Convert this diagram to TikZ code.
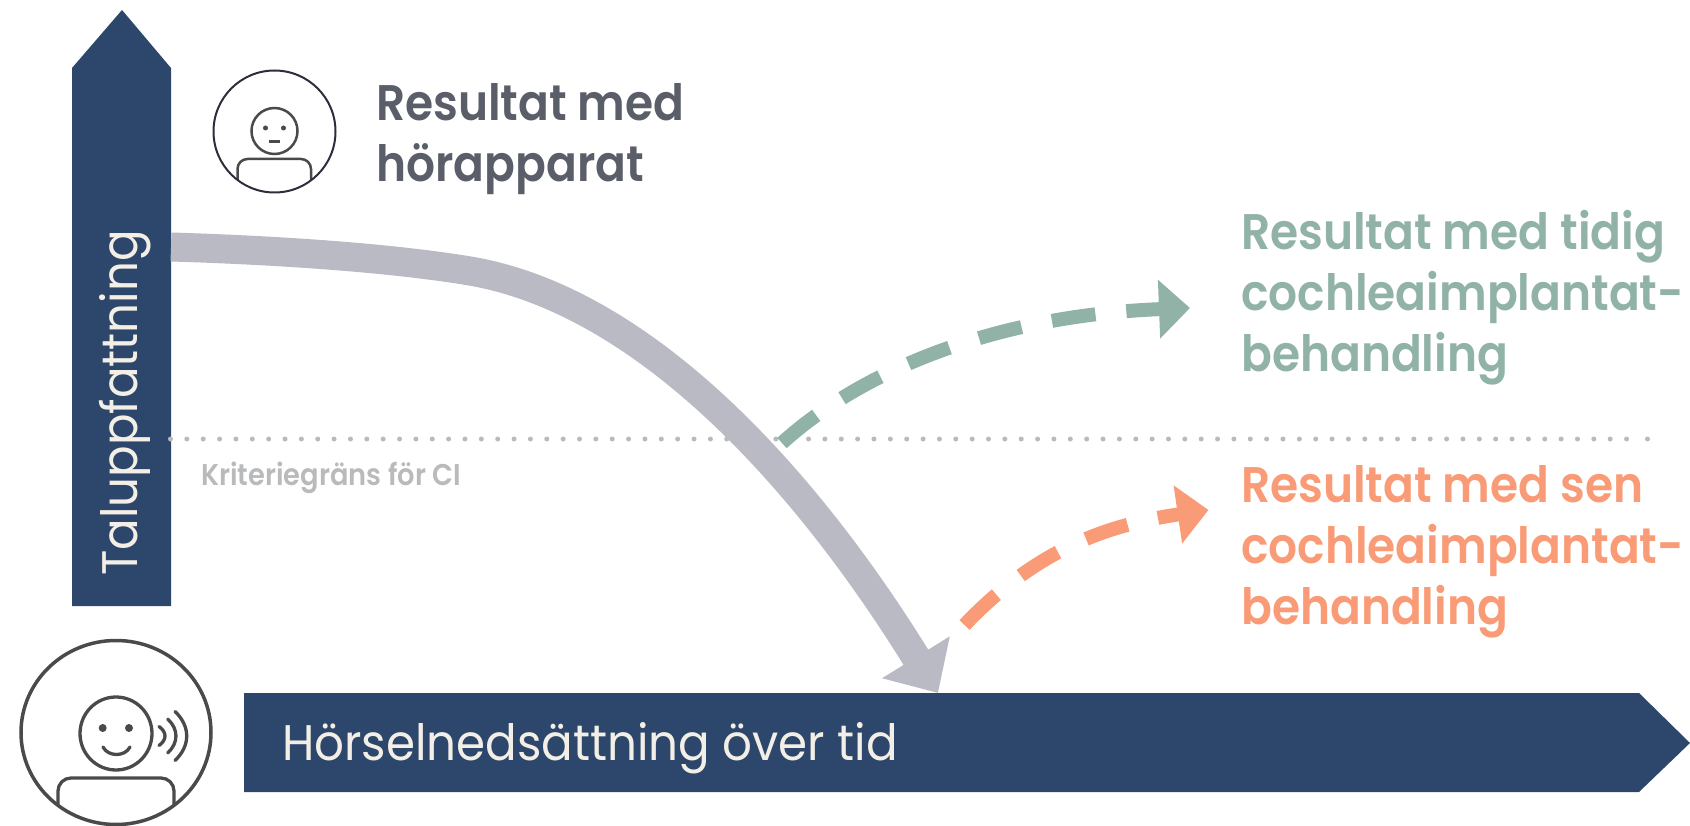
\documentclass[tikz,border=0pt]{standalone}
\usepackage{fontspec}
\usetikzlibrary{arrows.meta}
\setmainfont{Poppins}[FakeStretch=0.935,BoldFont={Poppins SemiBold},BoldFeatures={FakeStretch=0.91}]
\definecolor{navy}{HTML}{2C476B}
\definecolor{cream}{HTML}{F4EFE6}
\definecolor{sage}{HTML}{91B2A7}
\definecolor{coral}{HTML}{F99B76}
\definecolor{kurva}{HTML}{B9BAC3}
\definecolor{prick}{HTML}{B9BABC}
\definecolor{rubrik}{HTML}{5A5E68}
\definecolor{ikon}{HTML}{4A4A4A}
\definecolor{ring}{HTML}{2D2D3C}
\tikzset{
  bartext/.style={anchor=base west, inner sep=0pt, text=cream, font=\fontsize{50}{60}\selectfont},
  headtext/.style={anchor=base west, inner sep=0pt, align=left, font=\fontsize{50}{61}\selectfont\bfseries},
  dashline/.style={line width=14pt, dash pattern=on 44pt off 31pt}
}

\begin{document}
\begin{tikzpicture}[x=1pt,y=-1pt]
  \useasboundingbox (0,0) rectangle (1690,826);

  % Axlar
  \fill[navy] (72,606) -- (72,68) -- (122,10) -- (171,68) -- (171,606) -- cycle;
  \fill[navy] (244,693) -- (1639,693) -- (1690,743) -- (1639,792) -- (244,792) -- cycle;
  \node[bartext, rotate=90] (talupp) at (137,576) {Taluppfattning};
  \node[bartext] (horsel) at (282,760) {Hörselnedsättning över tid};

  % Kriteriegräns
  \draw[prick, line width=5pt, line cap=round, dash pattern=on 0pt off 16.36pt] (170.5,439) -- (1641,439);
  \fill[prick] (1647.5,439) circle (2.5);
  \node[anchor=base west, inner sep=0pt, text=prick, font=\fontsize{30}{34}\selectfont\bfseries] (krit) at (201,485) {Kriteriegräns för CI};

  % Kurvor
  \coordinate (kstart) at (171,247);
  \coordinate (kslut) at (938,693);
  \draw[kurva, line width=29pt, -{Triangle[length=42pt,width=77pt]}] (kstart)
    .. controls (270,250) and (385,257) .. (470,271)
    .. controls (640,300) and (800,470) .. (kslut);

  \coordinate (tstart) at (782,443);
  \coordinate (tslut) at (1190,308);
  \draw[sage, dashline, -{Triangle[length=31pt,width=57pt]}] (tstart)
    .. controls (868,365) and (1006,315) .. (tslut);

  \coordinate (sstart) at (964.5,625);
  \coordinate (sslut) at (1208.5,510);
  \draw[coral, dashline, -{Triangle[length=31pt,width=57pt]}] (sstart)
    .. controls (1036,550) and (1106,525) .. (sslut);

  % Etiketter
  \node[headtext, text=rubrik] (horapp) at (376,182) {Resultat med\\hörapparat};
  \node[headtext, text=sage] (tidig) at (1241,371) {Resultat med tidig\\cochleaimplantat-\\behandling};
  \node[headtext, text=coral] (sen) at (1241,624) {Resultat med sen\\cochleaimplantat-\\behandling};

  % Ikon, liten
  \begin{scope}
    \clip (274.5,131.5) circle (61);
    \draw[ikon, line width=2.5pt, rounded corners=10pt] (237.5,200) -- (237.5,159) -- (311,159) -- (311,200);
  \end{scope}
  \draw[ring, line width=2pt] (274.5,131.5) circle (61);
  \draw[ikon, line width=2.5pt] (274.5,131) circle (23);
  \foreach \x in {265.5,283.5}
    \fill[ikon] (\x,128) circle (2.5);
  \draw[ikon, line width=2.5pt] (269,141.5) -- (280,141.5);

  % Ikon, stor
  \begin{scope}
    \clip (116,732.5) ellipse (95 and 92);
    \draw[ikon, line width=3.3pt, rounded corners=13pt] (58,840) -- (58,778) -- (174,778) -- (174,840);
  \end{scope}
  \draw[ikon, line width=3.5pt] (116,732.5) ellipse (95 and 92);
  \draw[ikon, line width=3.3pt] (116,733.5) ellipse (36 and 36.5);
  \foreach \x in {102.7,129}
    \fill[ikon] (\x,728) circle (4);
  \draw[ikon, line width=3.3pt, line cap=round] (103,747) .. controls (108,757) and (125,757) .. (130,747);
  \foreach \x/\h/\b in {159/9.5/8,167.7/17/11,175/24.5/15.6}
    \draw[ikon, line width=3.3pt, line cap=round] (\x,736-\h) .. controls (\x+\b,736-0.4*\h) and (\x+\b,736+0.4*\h) .. (\x,736+\h);
\end{tikzpicture}
\end{document}
